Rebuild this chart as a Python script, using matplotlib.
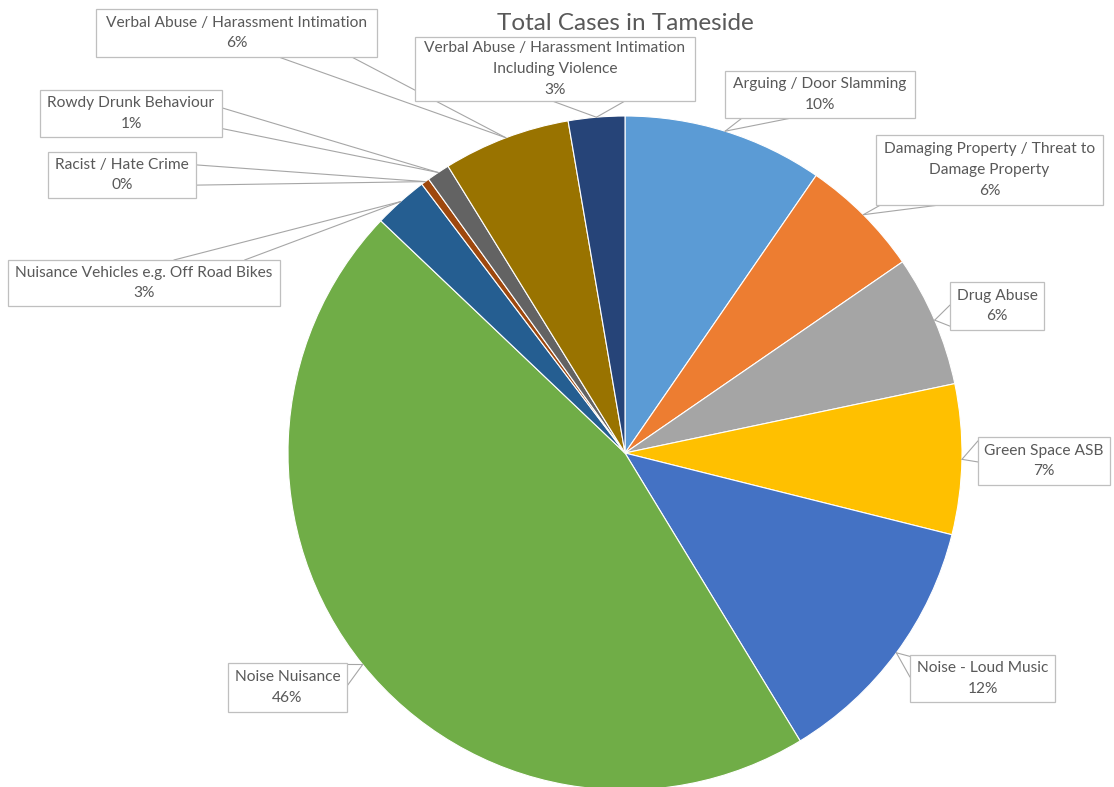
import matplotlib
matplotlib.use("Agg")
import matplotlib.pyplot as plt
from matplotlib.patches import Rectangle
import numpy as np

# ---- data ----
categories = [
    "Arguing / Door Slamming",
    "Damaging Property / Threat to\nDamage Property",
    "Drug Abuse",
    "Green Space ASB",
    "Noise - Loud Music",
    "Noise Nuisance",
    "Nuisance Vehicles e.g. Off Road Bikes",
    "Racist / Hate Crime",
    "Rowdy Drunk Behaviour",
    "Verbal Abuse / Harassment Intimation",
    "Verbal Abuse / Harassment Intimation\nIncluding Violence",
]
shares = [9.6, 5.8, 6.3, 7.2, 12.4, 45.8, 2.6, 0.4, 1.1, 6.1, 2.7]
colors = ["#5B9BD5", "#ED7D31", "#A5A5A5", "#FFC000", "#4472C4", "#70AD47",
          "#255E91", "#9E480E", "#636363", "#997300", "#264478"]
title = "Total Cases in Tameside"

# ---- layout (pixel space, y measured from top) ----
W, H = 1114, 787
CX, CY, R = 625, 453, 337
boxes = [  # x0, y0, x1, y1, side, base-centre fraction along edge
    (725, 71, 915, 118, "bottom", 0.22),
    (876, 135, 1103, 205, "bottom", 0.15),
    (950, 282, 1044, 330, "left", 0.7),
    (978, 437, 1110, 485, "left", 0.3),
    (910, 655, 1055, 702, "left", 0.25),
    (228, 663, 347, 712, "right", 0.25),
    (8, 260, 280, 306, "top", 0.74),
    (48, 152, 196, 198, "right", 0.5),
    (40, 90, 222, 137, "right", 0.6),
    (96, 9, 377, 57, "bottom", 0.78),
    (415, 37, 695, 101, "bottom", 0.62),
]

FONT = ["Lato", "DejaVu Sans"]
TXT = "#595959"
EDGE = "#BFBFBF"
LEAD = "#A6A6A6"

fig = plt.figure(figsize=(W / 100, H / 100), dpi=100)
ax = fig.add_axes([0, 0, 1, 1])

wedges, _ = ax.pie(shares, colors=colors, startangle=90, counterclock=False,
                   center=(CX, H - CY), radius=R, frame=True,
                   wedgeprops=dict(edgecolor="white", linewidth=0.8))
ax.set_xlim(0, W)
ax.set_ylim(0, H)
ax.set_aspect("equal")
ax.axis("off")

ax.text(CX, H - 23, title, ha="center", va="center", fontsize=17.5,
        color=TXT, family=FONT, zorder=2)

for w, cat, val, (x0, y0, x1, y1, side, frac) in zip(wedges, categories, shares, boxes):
    mid = np.deg2rad((w.theta1 + w.theta2) / 2)
    ax_, ay_ = w.center[0] + w.r * np.cos(mid), w.center[1] + w.r * np.sin(mid)
    bx0, bx1 = x0, x1
    by0, by1 = H - y1, H - y0  # bottom, top in data coords
    if side in ("bottom", "top"):
        ey = by0 if side == "bottom" else by1
        hw = 0.13 * (bx1 - bx0)
        c = bx0 + frac * (bx1 - bx0)
        c = min(max(c, bx0 + hw), bx1 - hw)
        p1, p2 = (c - hw, ey), (c + hw, ey)
    else:
        ex = bx0 if side == "left" else bx1
        hw = 0.22 * (by1 - by0)
        c = by1 - frac * (by1 - by0)
        c = min(max(c, by0 + hw), by1 - hw)
        p1, p2 = (ex, c - hw), (ex, c + hw)
    for p in (p1, p2):
        ax.plot([p[0], ax_], [p[1], ay_], color=LEAD, lw=0.8, zorder=3,
                solid_capstyle="round")
    ax.add_patch(Rectangle((bx0, by0), bx1 - bx0, by1 - by0, facecolor="white",
                           edgecolor=EDGE, lw=0.9, zorder=4))
    ax.text((bx0 + bx1) / 2, (by0 + by1) / 2, f"{cat}\n{val:.0f}%",
            ha="center", va="center", fontsize=11.2, color=TXT, family=FONT,
            linespacing=1.6, zorder=5)

fig.savefig("out.png", dpi=100, facecolor="white")
